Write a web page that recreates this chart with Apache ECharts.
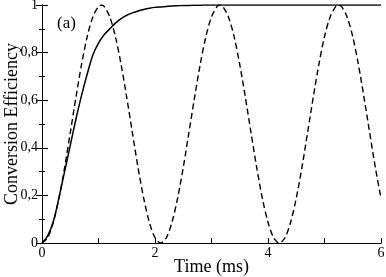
<!DOCTYPE html>
<html><head><meta charset="utf-8">
<script src="https://cdn.jsdelivr.net/npm/echarts@6/dist/echarts.min.js"></script>
<style>html,body{margin:0;padding:0;background:#fff}#c{width:386px;height:277px}</style>
</head><body><div id="c"></div>
<script>
var xTicks = [0, 2, 4, 6];
var yTicks = ['0', '0,2', '0,4', '0,6', '0,8', '1'];
var solidTime = [0,0.1,0.2,0.3,0.4,0.5,0.6,0.7,0.8,0.9,1.0,1.1,1.2,1.3,1.4,1.5,1.6,1.7,1.8,1.9,2.0,2.1,2.2,2.3,2.4,2.5,2.6,2.7,2.8,2.9,3.0,3.5,4.0,4.5,5.0,5.5,6.0];
var solidValue = [0,0.03,0.09,0.19,0.30,0.41,0.52,0.62,0.71,0.79,0.84,0.875,0.90,0.924,0.943,0.957,0.967,0.975,0.981,0.986,0.990,0.992,0.994,0.996,0.997,0.998,0.998,0.999,0.999,1,1,1,1,1,1,1,1];
var dashTime = [0,0.1,0.2,0.3,0.4,0.5,0.6,0.7,0.8,0.9,1.0,1.05,1.1,1.2,1.3,1.4,1.5,1.6,1.7,1.8,1.9,2.0,2.1,
  2.2,2.3,2.4,2.5,2.6,2.7,2.8,2.9,3.0,3.1,3.15,3.2,3.3,3.4,3.5,3.6,3.7,3.8,3.9,4.0,4.1,4.2,
  4.3,4.4,4.5,4.6,4.7,4.8,4.9,5.0,5.1,5.2,5.25,5.3,5.4,5.5,5.6,5.7,5.8,5.9,6.0];
var dashValue = [0,0.022,0.087,0.188,0.317,0.463,0.611,0.75,0.867,0.95,0.994,1,0.994,0.95,0.867,0.75,0.611,0.463,0.317,0.188,0.087,0.022,0,
  0.022,0.087,0.188,0.317,0.463,0.611,0.75,0.867,0.95,0.994,1,0.994,0.95,0.867,0.75,0.611,0.463,0.317,0.188,0.087,0.022,0,
  0.022,0.087,0.188,0.317,0.463,0.611,0.75,0.867,0.95,0.994,1,0.994,0.95,0.867,0.75,0.611,0.463,0.317,0.188];

function pairs(t, v) { return t.map(function (x, i) { return [x, v[i]]; }); }

var serif = '"Liberation Serif", "DejaVu Serif", serif';
var chart = echarts.init(document.getElementById('c'), null, {renderer: 'canvas'});
chart.setOption({
  animation: false,
  backgroundColor: '#fff',
  grid: {left: 42, right: 5, top: 5, bottom: 34, containLabel: false, outerBoundsMode: 'none'},
  xAxis: [{
    type: 'value', min: 0, max: 6, interval: 2,
    name: 'Time (ms)', nameLocation: 'middle', nameGap: 15, nameMoveOverlap: false,
    nameTextStyle: {fontFamily: serif, fontSize: 18, color: '#000', verticalAlign: 'top'},
    axisLine: {show: true, onZero: false, lineStyle: {color: '#000', width: 1}},
    axisTick: {show: true, inside: true, length: 5, lineStyle: {color: '#000'}},
    minorTick: {show: true, splitNumber: 2, length: 5, lineStyle: {color: '#000'}},
    axisLabel: {fontFamily: serif, fontSize: 14, color: '#000', margin: 3,
      formatter: function (v) { return xTicks.indexOf(v) >= 0 ? String(v) : ''; }},
    splitLine: {show: false}
  }, {
    type: 'value', min: 0, max: 6, position: 'top',
    axisLine: {show: true, lineStyle: {color: '#000', width: 1}},
    axisTick: {show: false}, axisLabel: {show: false}, splitLine: {show: false}
  }],
  yAxis: [{
    type: 'value', min: 0, max: 1, interval: 0.2,
    name: 'Conversion Efficiency', nameLocation: 'middle', nameGap: 21, nameMoveOverlap: false,
    nameTextStyle: {fontFamily: serif, fontSize: 18, color: '#000'},
    axisLine: {show: true, onZero: false, lineStyle: {color: '#000', width: 1}},
    axisTick: {show: true, inside: true, length: 6, lineStyle: {color: '#000'}},
    minorTick: {show: true, splitNumber: 2, length: 3, lineStyle: {color: '#000'}},
    axisLabel: {fontFamily: serif, fontSize: 14, color: '#000', margin: 4,
      formatter: function (v) { return yTicks[Math.round(v / 0.2)]; }},
    splitLine: {show: false}
  }, {
    type: 'value', min: 0, max: 1, interval: 0.2, position: 'right',
    axisLine: {show: true, lineStyle: {color: '#000', width: 1}},
    axisTick: {show: true, inside: true, length: 6, lineStyle: {color: '#000'}},
    minorTick: {show: true, splitNumber: 2, length: 3, lineStyle: {color: '#000'}},
    axisLabel: {show: false}, splitLine: {show: false}
  }],
  graphic: [{
    type: 'text', left: 57, top: 15,
    style: {text: '(a)', font: '17px ' + serif, fill: '#000'}
  }],
  series: [{
    type: 'line', data: pairs(solidTime, solidValue), smooth: 0.3, showSymbol: false,
    lineStyle: {color: '#000', width: 1.5}
  }, {
    type: 'line', data: pairs(dashTime, dashValue), smooth: 0.3, showSymbol: false,
    lineStyle: {color: '#000', width: 1.4, type: [6, 3.5]}
  }]
});
</script></body></html>
